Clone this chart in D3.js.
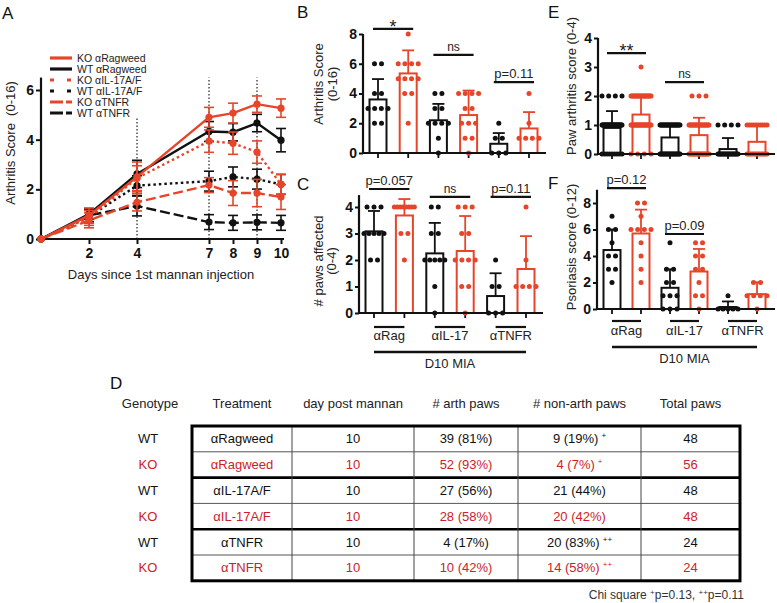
<!DOCTYPE html>
<html><head><meta charset="utf-8">
<script src="https://cdn.jsdelivr.net/npm/d3@7"></script>
<style>body{margin:0;background:#fff}svg{display:block}text{font-family:"Liberation Sans",Arial,Helvetica,sans-serif}</style>
</head><body><svg id="c" width="777" height="603"></svg>
<script>
// ================= DATA =================
// Panel A
const days = [0, 2, 4, 7, 8, 9, 10];
const dayTicks = [2, 4, 7, 8, 9, 10];
const aYTicks = [0, 2, 4, 6];
const seriesNames = ["KO αRagweed", "WT αRagweed", "KO αIL-17A/F", "WT αIL-17A/F", "KO αTNFR", "WT αTNFR"];
const koRagMean  = [0, 0.95, 2.5, 4.9, 5.07, 5.43, 5.27];
const koRagErr   = [0, 0.3, 0.6, 0.4, 0.4, 0.33, 0.37];
const wtRagMean  = [0, 1.0, 2.62, 4.33, 4.3, 4.67, 3.98];
const wtRagErr   = [0, 0.2, 0.55, 0.4, 0.35, 0.35, 0.47];
const koIl17Mean = [0, 0.85, 2.45, 3.94, 3.86, 3.5, 2.2];
const koIl17Err  = [0, 0.3, 0.5, 0.45, 0.45, 0.45, 0.4];
const wtIl17Mean = [0, 0.9, 2.15, 2.33, 2.5, 2.41, 2.2];
const wtIl17Err  = [0, 0.25, 0.4, 0.4, 0.4, 0.4, 0.4];
const koTnfrMean = [0, 0.75, 1.48, 2.17, 1.85, 1.85, 1.69];
const koTnfrErr  = [0, 0.3, 0.35, 0.3, 0.5, 0.55, 0.5];
const wtTnfrMean = [0, 0.95, 1.33, 0.68, 0.65, 0.67, 0.65];
const wtTnfrErr  = [0, 0.25, 0.4, 0.3, 0.3, 0.3, 0.3];
const markerDays = [{day: 4, top: 4.9}, {day: 7, top: 6.5}, {day: 9, top: 6.5}];

// Bar panels (order: WT αRag, KO αRag, WT αIL-17, KO αIL-17, WT αTNFR, KO αTNFR)
const barGroups = ["WT αRag", "KO αRag", "WT αIL-17", "KO αIL-17", "WT αTNFR", "KO αTNFR"];
const groupLabels = ["αRag", "αIL-17", "αTNFR"];
const groupTitle = "D10 MIA";

const bMeans = [3.6, 5.35, 2.2, 2.55, 0.62, 1.65];
const bSD    = [1.37, 1.55, 1.1, 1.65, 0.72, 1.1];
const bPoints = [
  [6,6,4,4,3,3,3,3,2,2],
  [8,6,6,6,6,5,5,5,5,4,4,2],
  [4,4,3,3,2,2,2,2,1,0],
  [4,4,4,4,3,3,2,2,2,1,1,0],
  [2,1,1,0,0,0],
  [4,2,1,1,1,1]
];
const bTicks = [0, 2, 4, 6, 8];

const cMeans = [3.08, 3.68, 2.25, 2.34, 0.64, 1.66];
const cSD    = [0.77, 0.62, 1.15, 1.32, 0.86, 1.24];
const cPoints = [
  [4,4,4,3,3,3,3,3,2,2],
  [4,4,4,4,4,4,4,4,3,3,2],
  [4,4,3,3,2,2,2,2,2,1,0],
  [4,4,4,3,3,2,2,2,2,1,1,0],
  [2,1,1,0,0,0],
  [4,2,1,1,1,1]
];
const cTicks = [0, 1, 2, 3, 4];

const eMeans = [0.9, 1.36, 0.57, 0.65, 0.17, 0.42];
const eSD    = [0.58, 0.6, 0.43, 0.6, 0.38, 0.58];
// paw scores: [value, count]
const eCounts = [
  [[0,9],[1,35],[2,4]],
  [[0,4],[1,29],[2,22],[3,1]],
  [[0,21],[1,27]],
  [[0,20],[1,25],[2,3]],
  [[0,20],[1,4]],
  [[0,14],[1,10]]
];
const eTicks = [0, 1, 2, 3, 4];

const fMeans = [4.45, 5.7, 1.6, 2.83, 0.15, 1.12];
const fSD    = [1.55, 1.8, 1.4, 1.7, 0.42, 0.9];
const fPoints = [
  [7,6,6,5,4,4,3,3,2],
  [8,8,7,6,6,6,6,5,4,3,2],
  [5,3,3,2,2,1,1,1,0,0,0],
  [5,5,4,4,3,3,2,1,1,0],
  [1,0,0,0,0,0],
  [2,2,1,1,1,1,0]
];
const fTicks = [0, 2, 4, 6, 8];

// Table D
const tblHeaders = ["Genotype", "Treatment", "day post mannan", "# arth paws", "# non-arth paws", "Total paws"];
const tblGenotype = ["WT", "KO", "WT", "KO", "WT", "KO"];
const tblTreatment = ["αRagweed", "αRagweed", "αIL-17A/F", "αIL-17A/F", "αTNFR", "αTNFR"];
const tblDay = [10, 10, 10, 10, 10, 10];
const tblArth = ["39 (81%)", "52 (93%)", "27 (56%)", "28 (58%)", "4 (17%)", "10 (42%)"];
const tblNonArth = ["9 (19%)", "4 (7%)", "21 (44%)", "20 (42%)", "20 (83%)", "14 (58%)"];
const tblNonArthSup = ["+", "+", "", "", "++", "++"];
const tblTotal = [48, 56, 48, 48, 24, 24];

// ================= DRAWING =================
const RED = "#e6452a";
const TRED = "#cc2229";
const BLK = "#111";
const svg = d3.select("#c");

function panelLetter(t, x, y) {
  svg.append("text").attr("x", x).attr("y", y).attr("font-size", 17).attr("fill", "#111").text(t);
}
function rotLabel(lines, xs, cy, size) {
  lines.forEach((t, i) => {
    svg.append("text").attr("transform", `translate(${xs[i]},${cy}) rotate(-90)`)
      .attr("text-anchor", "middle").attr("font-size", size || 13).attr("fill", "#222")
      .style("white-space", "pre").text(t);
  });
}
function styleAxis(g) {
  g.select(".domain").remove();
  g.selectAll(".tick line").attr("stroke", BLK).attr("stroke-width", 2);
  g.selectAll(".tick text").attr("fill", BLK).attr("font-size", 14).attr("font-weight", "bold")
    .attr("font-family", '"Liberation Sans", Arial, sans-serif');
}

// ---------- Panel A ----------
panelLetter("A", 2, 19);
const aX = d3.scaleLinear().domain([0, 10]).range([41, 281]);
const aY = d3.scaleLinear().domain([0, 6]).range([239, 90]);
const gA = svg.append("g");

markerDays.forEach(m => {
  gA.append("line").attr("x1", aX(m.day)).attr("x2", aX(m.day)).attr("y1", aY(0)).attr("y2", aY(m.top))
    .attr("stroke", "#222").attr("stroke-width", 1.2).attr("stroke-dasharray", "1.5,2");
});

gA.append("g").attr("transform", `translate(0,${aY(0)})`)
  .call(d3.axisBottom(aX).tickValues(dayTicks).tickSize(5).tickPadding(4).tickFormat(d3.format("d"))).call(styleAxis);
gA.append("g").attr("transform", `translate(41,0)`)
  .call(d3.axisLeft(aY).tickValues(aYTicks).tickSize(5).tickPadding(2).tickFormat(d3.format("d"))).call(styleAxis);
gA.append("line").attr("x1", 41).attr("x2", aX(10) + 3).attr("y1", aY(0)).attr("y2", aY(0)).attr("stroke", BLK).attr("stroke-width", 2.2);
gA.append("line").attr("x1", 41).attr("x2", 41).attr("y1", aY(0) + 1).attr("y2", aY(6.5)).attr("stroke", BLK).attr("stroke-width", 2.2);

const series = [
  {name: seriesNames[0], mean: koRagMean, err: koRagErr, color: RED, dash: null, ldash: null},
  {name: seriesNames[1], mean: wtRagMean, err: wtRagErr, color: BLK, dash: null, ldash: null},
  {name: seriesNames[2], mean: koIl17Mean, err: koIl17Err, color: RED, dash: "2.5,3", ldash: "4,13"},
  {name: seriesNames[3], mean: wtIl17Mean, err: wtIl17Err, color: BLK, dash: "2.5,3", ldash: "4,13"},
  {name: seriesNames[4], mean: koTnfrMean, err: koTnfrErr, color: RED, dash: "10,4", ldash: "13,3"},
  {name: seriesNames[5], mean: wtTnfrMean, err: wtTnfrErr, color: BLK, dash: "10,4", ldash: "13,3"}
];
const line = d3.line().x(d => aX(d.day)).y(d => aY(d.v));
const drawOrder = [5, 3, 1, 4, 2, 0];
drawOrder.forEach(si => {
  const s = series[si];
  const pts = days.map((d, i) => ({day: d, v: s.mean[i], e: s.err[i]}));
  gA.append("path").datum(pts).attr("d", line).attr("fill", "none").attr("stroke", s.color)
    .attr("stroke-width", 2.4).attr("stroke-dasharray", s.dash);
  pts.filter(p => p.e > 0).forEach(p => {
    const x = aX(p.day);
    gA.append("line").attr("x1", x).attr("x2", x).attr("y1", aY(p.v - p.e)).attr("y2", aY(p.v + p.e))
      .attr("stroke", s.color).attr("stroke-width", 1.6);
    [p.v - p.e, p.v + p.e].forEach(v => gA.append("line").attr("x1", x - 5).attr("x2", x + 5)
      .attr("y1", aY(v)).attr("y2", aY(v)).attr("stroke", s.color).attr("stroke-width", 1.6));
  });
  gA.selectAll(null).data(pts).enter().append("circle").attr("cx", p => aX(p.day)).attr("cy", p => aY(p.v))
    .attr("r", 3.6).attr("fill", s.color);
});

// legend
series.forEach((s, i) => {
  const y = 58 + i * 11;
  gA.append("line").attr("x1", 50).attr("x2", 72).attr("y1", y).attr("y2", y).attr("stroke", s.color)
    .attr("stroke-width", 3.2).attr("stroke-dasharray", s.ldash);
  gA.append("text").attr("x", 77).attr("y", y + 4).attr("font-size", 10.5).attr("fill", "#222").text(s.name);
});

gA.append("text").attr("x", 161).attr("y", 279).attr("text-anchor", "middle").attr("font-size", 13)
  .attr("fill", "#222").text("Days since 1st mannan injection");
rotLabel(["Arthritis Score  (0-16)"], [15], 143);

// ---------- bar panels ----------
function spreadPoints(values) {
  const byVal = d3.rollup(values, v => v.length, d => d);
  const out = [];
  byVal.forEach((n, v) => {
    const sp = n > 1 ? Math.min(7, 20 / (n - 1)) : 0;
    for (let k = 0; k < n; k++) out.push({v: v, dx: (k - (n - 1) / 2) * sp});
  });
  return out;
}

function barPanel(p) {
  const g = svg.append("g");
  const y = d3.scaleLinear().domain([0, p.tickMax]).range([p.y0, p.yTickMax]);
  const x = d3.scaleLinear().domain([0, barGroups.length - 1]).range([p.c0, p.c5]);
  g.append("g").attr("transform", `translate(${p.x0},0)`)
    .call(d3.axisLeft(y).tickValues(p.ticks).tickSize(4).tickPadding(2).tickFormat(d3.format("d"))).call(styleAxis);
  barGroups.forEach((b, i) => g.append("line").attr("x1", x(i)).attr("x2", x(i)).attr("y1", y(0)).attr("y2", y(0) + 5)
    .attr("stroke", BLK).attr("stroke-width", 1.8));
  const w = 17;
  p.means.forEach((m, i) => {
    const col = i % 2 ? RED : BLK;
    g.append("rect").attr("x", x(i) - w / 2).attr("y", y(m)).attr("width", w).attr("height", y(0) - y(m))
      .attr("fill", "none").attr("stroke", col).attr("stroke-width", 2);
    const top = m + p.sds[i];
    g.append("line").attr("x1", x(i)).attr("x2", x(i)).attr("y1", y(m)).attr("y2", y(top)).attr("stroke", col).attr("stroke-width", 1.8);
    g.append("line").attr("x1", x(i) - 6).attr("x2", x(i) + 6).attr("y1", y(top)).attr("y2", y(top)).attr("stroke", col).attr("stroke-width", 1.8);
    const pts = spreadPoints(p.points[i]);
    g.selectAll(null).data(pts).enter().append("circle").attr("cx", d => x(i) + d.dx).attr("cy", d => y(d.v))
      .attr("r", 2.5).attr("fill", col);
  });
  g.append("line").attr("x1", p.x0).attr("x2", p.xEnd).attr("y1", y(0)).attr("y2", y(0)).attr("stroke", BLK).attr("stroke-width", 2.2);
  g.append("line").attr("x1", p.x0).attr("x2", p.x0).attr("y1", y(0) + 1).attr("y2", y(p.axisTop)).attr("stroke", BLK).attr("stroke-width", 2.2);
  p.sig.forEach(s => {
    const x1 = x(s.i) - 5, x2 = x(s.j) + 5, yy = y(s.v);
    g.append("line").attr("x1", x1).attr("x2", x2).attr("y1", yy).attr("y2", yy).attr("stroke", BLK).attr("stroke-width", 2.2);
    const star = /^\*+$/.test(s.t);
    g.append("text").attr("x", (x1 + x2) / 2).attr("y", star ? yy + 4 : yy - 4).attr("text-anchor", "middle")
      .attr("font-size", star ? 18 : (s.t === "ns" ? 12 : 13)).attr("fill", "#222").text(s.t);
  });
  if (p.groups) {
    groupLabels.forEach((lab, k) => {
      const xa = x(2 * k), xb = x(2 * k + 1);
      g.append("line").attr("x1", xa).attr("x2", xb).attr("y1", p.groups.line).attr("y2", p.groups.line).attr("stroke", BLK).attr("stroke-width", 2.2);
      g.append("text").attr("x", (xa + xb) / 2).attr("y", p.groups.label).attr("text-anchor", "middle").attr("font-size", 13).attr("fill", "#222").text(lab);
    });
    g.append("line").attr("x1", x(0)).attr("x2", x(5)).attr("y1", p.groups.big).attr("y2", p.groups.big).attr("stroke", BLK).attr("stroke-width", 2.6);
    g.append("text").attr("x", (x(0) + x(5)) / 2).attr("y", p.groups.bigLabel).attr("text-anchor", "middle").attr("font-size", 13).attr("fill", "#222").text(groupTitle);
  }
}

const ePoints = eCounts.map(list => list.flatMap(([v, n]) => d3.range(n).map(() => v)));

panelLetter("B", 297, 18);
barPanel({x0: 363, y0: 153, tickMax: 8, yTickMax: 34, ticks: bTicks, axisTop: 8, c0: 378, c5: 529, xEnd: 546,
  means: bMeans, sds: bSD, points: bPoints,
  sig: [{t: "*", i: 0, j: 1, v: 8.35}, {t: "ns", i: 2, j: 3, v: 6.6}, {t: "p=0.11", i: 4, j: 5, v: 4.77}]});
rotLabel(["Arthritis Score", "(0-16)"], [323, 337], 84);

panelLetter("C", 297, 190);
barPanel({x0: 359, y0: 313, tickMax: 4, yTickMax: 207, ticks: cTicks, axisTop: 4.45, c0: 374, c5: 526, xEnd: 543,
  means: cMeans, sds: cSD, points: cPoints,
  sig: [{t: "p=0.057", i: 0, j: 1, v: 4.68}, {t: "ns", i: 2, j: 3, v: 4.38}, {t: "p=0.11", i: 4, j: 5, v: 4.38}],
  groups: {line: 327, label: 340, big: 352, bigLabel: 368}});
rotLabel(["# paws affected", "(0-4)"], [323, 336], 261);

panelLetter("E", 548, 18);
barPanel({x0: 598, y0: 154, tickMax: 4, yTickMax: 38, ticks: eTicks, axisTop: 4, c0: 612, c5: 757, xEnd: 775,
  means: eMeans, sds: eSD, points: ePoints,
  sig: [{t: "**", i: 0, j: 1, v: 3.48}, {t: "ns", i: 2, j: 3, v: 2.48}]});
rotLabel(["Paw arthritis score (0-4)"], [576], 86);

panelLetter("F", 548, 189);
barPanel({x0: 597, y0: 309, tickMax: 8, yTickMax: 203, ticks: fTicks, axisTop: 9, c0: 612, c5: 757, xEnd: 775,
  means: fMeans, sds: fSD, points: fPoints,
  sig: [{t: "p=0.12", i: 0, j: 1, v: 9.13}, {t: "p=0.09", i: 2, j: 3, v: 5.66}],
  groups: {line: 321, label: 335, big: 347, bigLabel: 363}});
rotLabel(["Psoriasis score (0-12)"], [576], 247);

// ---------- Table D ----------
panelLetter("D", 110, 389);
const colX = [192, 292, 414, 518, 641, 740];
const rowTop = 426, rowH = 25.8;
const colCenters = [148].concat(d3.range(5).map(i => (colX[i] + colX[i + 1]) / 2));
const gT = svg.append("g");
tblHeaders.forEach((h, i) => gT.append("text").attr("x", i === 0 ? 150 : colCenters[i]).attr("y", 408).attr("text-anchor", "middle")
  .attr("font-size", 13).attr("fill", "#222").text(h));
const rowY = r => rowTop + r * rowH;
for (let r = 1; r < 6; r++) {
  const thick = r % 2 === 0;
  gT.append("line").attr("x1", colX[0]).attr("x2", colX[5]).attr("y1", rowY(r)).attr("y2", rowY(r))
    .attr("stroke", thick ? "#000" : "#555").attr("stroke-width", thick ? 2.6 : 1);
}
for (let c = 1; c < 5; c++) gT.append("line").attr("x1", colX[c]).attr("x2", colX[c]).attr("y1", rowTop).attr("y2", rowY(6))
  .attr("stroke", "#444").attr("stroke-width", 1);
gT.append("rect").attr("x", colX[0]).attr("y", rowTop).attr("width", colX[5] - colX[0]).attr("height", rowY(6) - rowTop)
  .attr("fill", "none").attr("stroke", "#000").attr("stroke-width", 3);
tblGenotype.forEach((gt, r) => {
  const col = gt === "KO" ? TRED : "#111";
  const yb = rowY(r) + rowH / 2 + 4.5;
  const cells = [gt, tblTreatment[r], String(tblDay[r]), tblArth[r], tblNonArth[r], String(tblTotal[r])];
  cells.forEach((t, c) => {
    const tx = gT.append("text").attr("x", colCenters[c]).attr("y", yb).attr("text-anchor", "middle")
      .attr("font-size", 13).attr("fill", col).text(t);
    if (c === 4 && tblNonArthSup[r]) tx.append("tspan").attr("dx", 3).attr("dy", -5).attr("font-size", 8).text(tblNonArthSup[r]);
  });
});
const chi = gT.append("text").attr("x", 744).attr("y", 599).attr("text-anchor", "end").attr("font-size", 12).attr("fill", "#333");
chi.append("tspan").text("Chi square ");
chi.append("tspan").attr("dy", -4).attr("font-size", 8).text("+");
chi.append("tspan").attr("dy", 4).text("p=0.13, ");
chi.append("tspan").attr("dy", -4).attr("font-size", 8).text("++");
chi.append("tspan").attr("dy", 4).text("p=0.11");
</script></body></html>
